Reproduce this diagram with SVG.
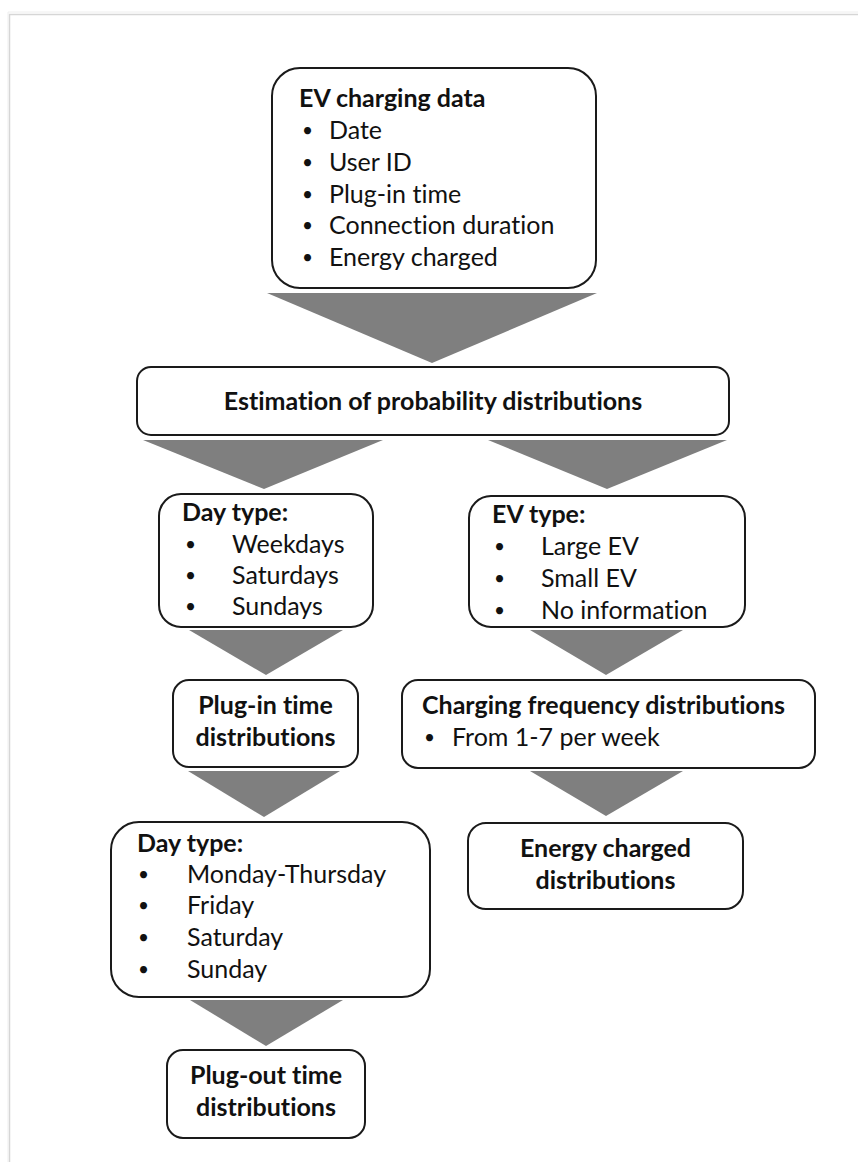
<svg xmlns="http://www.w3.org/2000/svg" width="858" height="1162" viewBox="0 0 858 1162">
<style>
.box{fill:#fff;stroke:#1a1a1a;stroke-width:2}
.arr{fill:#7f7f7f;stroke:none}
.t{font-family:Lato,"Liberation Sans",sans-serif;font-size:25px;fill:#111;font-variant-ligatures:none}
.d{font-family:Lato,"Liberation Sans",sans-serif;font-size:19px;fill:#111}
.b{font-weight:bold}
.c{text-anchor:middle}
.frame{stroke:#d6d6d6;stroke-width:1.5;fill:none}
</style>
<rect x="0" y="0" width="858" height="1162" fill="#fff"/>
<path class="frame" d="M9.5,1162 V14.5 H858"/>
<path d="M8,1162 V12 H858" stroke="#eeeeee" stroke-width="1" fill="none"/>

<g id="connectors">
<polygon class="arr" points="267,293 597,293 432,363"/>
<polygon class="arr" points="143,440 383,440 264,489"/>
<polygon class="arr" points="488,440 727,440 607,489"/>
<polygon class="arr" points="189,630 343,630 266,675"/>
<polygon class="arr" points="530,630 683,630 606,675"/>
<polygon class="arr" points="188,771 340,771 264,817"/>
<polygon class="arr" points="530,771 683,771 606,816"/>
<polygon class="arr" points="190,1000 343,1000 266,1046"/>
</g>

<g id="ev-data">
<rect class="box" x="272" y="68" width="324" height="220" rx="28"/>
<text class="t b" x="299" y="107">EV charging data</text>
<text class="d" x="302" y="137">•</text><text class="t" x="329" y="139">Date</text>
<text class="d" x="302" y="169">•</text><text class="t" x="329" y="171">User ID</text>
<text class="d" x="302" y="201">•</text><text class="t" x="329" y="203">Plug-in time</text>
<text class="d" x="302" y="232">•</text><text class="t" x="329" y="234">Connection duration</text>
<text class="d" x="302" y="264">•</text><text class="t" x="329" y="266">Energy charged</text>
</g>

<g id="estimation">
<rect class="box" x="137" y="367" width="592" height="68" rx="14"/>
<text class="t b c" x="433" y="410">Estimation of probability distributions</text>
</g>

<g id="day-type-1">
<rect class="box" x="159" y="494" width="214" height="133" rx="22"/>
<text class="t b" x="182" y="521">Day type:</text>
<text class="d" x="185" y="551">•</text><text class="t" x="232" y="553">Weekdays</text>
<text class="d" x="185" y="582">•</text><text class="t" x="232" y="584">Saturdays</text>
<text class="d" x="185" y="613">•</text><text class="t" x="232" y="615">Sundays</text>
</g>

<g id="ev-type">
<rect class="box" x="469" y="496" width="276" height="131" rx="22"/>
<text class="t b" x="492" y="523">EV type:</text>
<text class="d" x="494" y="553">•</text><text class="t" x="541" y="555">Large EV</text>
<text class="d" x="494" y="585">•</text><text class="t" x="541" y="587">Small EV</text>
<text class="d" x="494" y="617">•</text><text class="t" x="541" y="619">No information</text>
</g>

<g id="plug-in">
<rect class="box" x="173" y="680" width="185" height="87" rx="16"/>
<text class="t b c" x="265.5" y="714">Plug-in time</text>
<text class="t b c" x="265.5" y="746">distributions</text>
</g>

<g id="charging-frequency">
<rect class="box" x="402" y="680" width="413" height="88" rx="16"/>
<text class="t b" x="422" y="714">Charging frequency distributions</text>
<text class="d" x="424" y="744">•</text><text class="t" x="452" y="746">From 1-7 per week</text>
</g>

<g id="energy-charged">
<rect class="box" x="468" y="823" width="275" height="86" rx="18"/>
<text class="t b c" x="605.5" y="857">Energy charged</text>
<text class="t b c" x="605.5" y="889">distributions</text>
</g>

<g id="day-type-2">
<rect class="box" x="111" y="822" width="319" height="175" rx="28"/>
<text class="t b" x="137" y="852">Day type:</text>
<text class="d" x="138" y="881">•</text><text class="t" x="187" y="883">Monday-Thursday</text>
<text class="d" x="138" y="912">•</text><text class="t" x="187" y="914">Friday</text>
<text class="d" x="138" y="944">•</text><text class="t" x="187" y="946">Saturday</text>
<text class="d" x="138" y="976">•</text><text class="t" x="187" y="978">Sunday</text>
</g>

<g id="plug-out">
<rect class="box" x="167" y="1050" width="198" height="88" rx="16"/>
<text class="t b c" x="266" y="1084">Plug-out time</text>
<text class="t b c" x="266" y="1116">distributions</text>
</g>
</svg>
